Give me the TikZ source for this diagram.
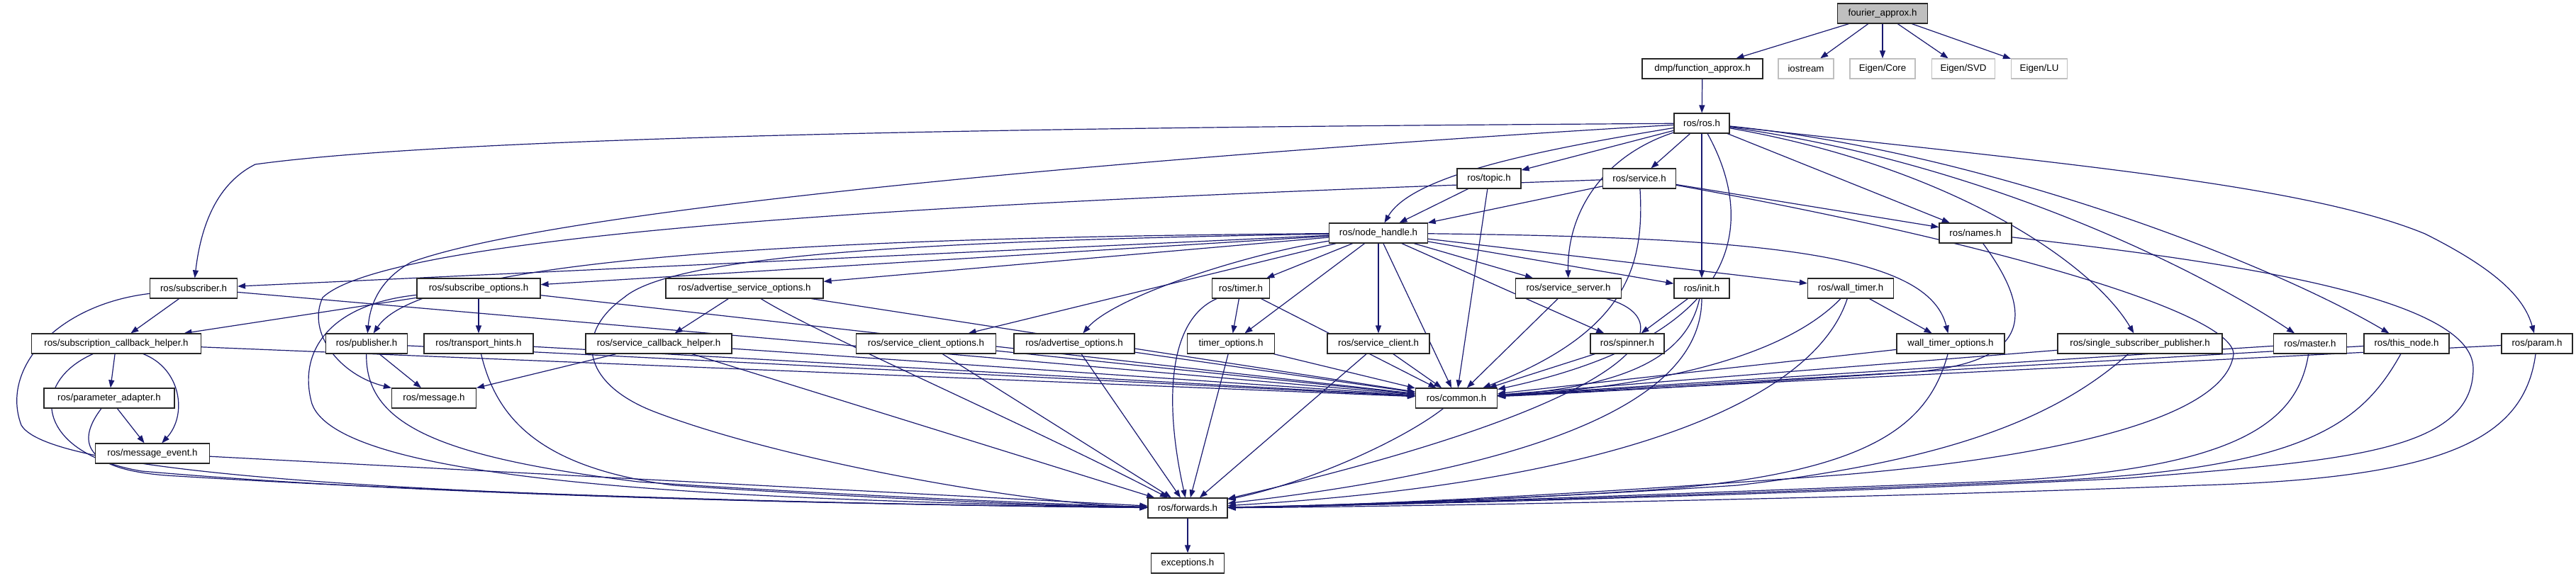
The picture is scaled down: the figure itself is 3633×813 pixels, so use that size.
\documentclass[tikz,border=0pt]{standalone}
\usepackage{fontspec}
\setmainfont{Liberation Sans}
\usetikzlibrary{arrows.meta}
\pgfdeclarelayer{bglayer}
\pgfdeclarelayer{edgelayer}
\pgfsetlayers{bglayer,edgelayer,main}
\definecolor{edgeblue}{HTML}{191970}
\definecolor{extgray}{HTML}{BFBFBF}
\tikzset{
  hdr/.style={draw=black!85, line width=1.15pt, fill=white, rectangle, inner sep=0pt,
    minimum height=28pt, font=\fontsize{13.3}{15}\selectfont},
  exthdr/.style={hdr, draw=extgray},
  rootbox/.style={hdr, fill=extgray},
  e/.style={draw=edgeblue, line width=1.2pt, -{Triangle[length=11pt,width=8pt]}}
}
\begin{document}
\begin{tikzpicture}[x=1pt,y=-1pt]
\begin{pgfonlayer}{bglayer}
\fill[white] (0,0) rectangle (3633,813);
\end{pgfonlayer}
\useasboundingbox (0,0) rectangle (3633,813);
% rank 0
\node[rootbox, minimum width=127pt] (fourier) at (2655,19) {fourier\_approx.h};
% rank 1
\node[hdr, minimum width=170pt] (dmp) at (2401,97) {dmp/function\_approx.h};
\node[exthdr, minimum width=78pt] (iostream) at (2547,97) {iostream};
\node[exthdr, minimum width=92pt] (core) at (2655,97) {Eigen/Core};
\node[exthdr, minimum width=89pt] (svd) at (2769,97) {Eigen/SVD};
\node[exthdr, minimum width=79pt] (lu) at (2876,97) {Eigen/LU};
% rank 2
\node[hdr, minimum width=78pt] (ros) at (2400,174) {ros/ros.h};
% rank 3
\node[hdr, minimum width=90pt] (topic) at (2100,252) {ros/topic.h};
\node[hdr, minimum width=103pt] (service) at (2312,252) {ros/service.h};
% rank 4
\node[hdr, minimum width=139pt] (nh) at (1944,329) {ros/node\_handle.h};
\node[hdr, minimum width=102pt] (names) at (2786,329) {ros/names.h};
% rank 5
\node[hdr, minimum width=123pt] (subscriber) at (273,407) {ros/subscriber.h};
\node[hdr, minimum width=174pt] (subopts) at (675,407) {ros/subscribe\_options.h};
\node[hdr, minimum width=222pt] (advsrvopts) at (1050,407) {ros/advertise\_service\_options.h};
\node[hdr, minimum width=81pt] (timer) at (1750,407) {ros/timer.h};
\node[hdr, minimum width=149pt] (srvserver) at (2212,407) {ros/service\_server.h};
\node[hdr, minimum width=78pt] (init) at (2400,407) {ros/init.h};
\node[hdr, minimum width=121pt] (walltimer) at (2610,407) {ros/wall\_timer.h};
% rank 6
\node[hdr, minimum width=239pt] (subcb) at (164,485) {ros/subscription\_callback\_helper.h};
\node[hdr, minimum width=115pt] (publisher) at (517,485) {ros/publisher.h};
\node[hdr, minimum width=154pt] (transport) at (675,485) {ros/transport\_hints.h};
\node[hdr, minimum width=206pt] (srvcb) at (929,485) {ros/service\_callback\_helper.h};
\node[hdr, minimum width=197pt] (srvclientopts) at (1306,485) {ros/service\_client\_options.h};
\node[hdr, minimum width=170pt] (advopts) at (1515,485) {ros/advertise\_options.h};
\node[hdr, minimum width=123pt] (timeropts) at (1736,485) {timer\_options.h};
\node[hdr, minimum width=144pt] (srvclient) at (1944,485) {ros/service\_client.h};
\node[hdr, minimum width=104pt] (spinner) at (2295,485) {ros/spinner.h};
\node[hdr, minimum width=152pt] (walltimeropts) at (2751,485) {wall\_timer\_options.h};
\node[hdr, minimum width=232pt] (singlesub) at (3018,485) {ros/single\_subscriber\_publisher.h};
\node[hdr, minimum width=103pt] (master) at (3258,485) {ros/master.h};
\node[hdr, minimum width=120pt] (thisnode) at (3394,485) {ros/this\_node.h};
\node[hdr, minimum width=100pt] (param) at (3578,485) {ros/param.h};
% rank 7
\node[hdr, minimum width=184pt] (paramadapter) at (154,562) {ros/parameter\_adapter.h};
\node[hdr, minimum width=119pt] (message) at (612,562) {ros/message.h};
\node[hdr, minimum width=115pt] (common) at (2054,562) {ros/common.h};
% rank 8
\node[hdr, minimum width=161pt] (msgevent) at (215,640) {ros/message\_event.h};
% rank 9, 10
\node[hdr, minimum width=112pt] (forwards) at (1675,717) {ros/forwards.h};
\node[hdr, minimum width=103pt] (exceptions) at (1675,795) {exceptions.h};

\begin{pgfonlayer}{edgelayer}
\draw[e] (fourier) -- (dmp);
\draw[e] (fourier) -- (iostream);
\draw[e] (fourier) -- (core);
\draw[e] (fourier) -- (svd);
\draw[e] (fourier) -- (lu);
\draw[e] (dmp) -- (ros);
% ros.h
\draw[e] (ros) .. controls (1800,178) and (700,185) .. (360,232) .. controls (300,262) and (282,330) .. (subscriber);
\draw[e] (ros) .. controls (1700,215) and (800,290) .. (580,370) .. controls (535,395) and (522,430) .. (publisher);
\draw[e] (ros) -- (topic);
\draw[e] (ros) -- (service);
\draw[e] (ros) .. controls (2150,215) and (1990,250) .. (nh);
\draw[e] (ros) .. controls (2260,220) and (2210,300) .. (srvserver);
\draw[e] (ros) -- (init);
\draw[e] (ros) .. controls (2470,300) and (2480,470) .. (common);
\draw[e] (ros) -- (names);
\draw[e] (ros) .. controls (2750,235) and (2950,370) .. (singlesub);
\draw[e] (ros) .. controls (2800,230) and (3100,380) .. (master);
\draw[e] (ros) .. controls (2800,215) and (3200,370) .. (thisnode);
\draw[e] (ros) .. controls (2900,230) and (3250,260) .. (3420,330) .. controls (3520,380) and (3560,420) .. (param);
% topic, service
\draw[e] (topic) -- (nh);
\draw[e] (topic) -- (common);
\draw[e] (service) -- (nh);
\draw[e] (service) .. controls (2320,380) and (2290,470) .. (common);
\draw[e] (service) -- (names);
\draw[e] (service) .. controls (2800,340) and (3150,440) .. (3150,500) .. controls (3140,580) and (2950,640) .. (2600,670) .. controls (2200,700) and (1900,714) .. (forwards);
\draw[e] (service) .. controls (1500,280) and (560,320) .. (455,420) .. controls (432,470) and (480,530) .. (message);
% node_handle
\draw[e] (nh) -- (subscriber);
\draw[e] (nh) -- (subopts);
\draw[e] (nh) .. controls (1200,335) and (600,360) .. (publisher);
\draw[e] (nh) -- (advsrvopts);
\draw[e] (nh) -- (srvclientopts);
\draw[e] (nh) .. controls (1750,360) and (1570,420) .. (advopts);
\draw[e] (nh) -- (timer);
\draw[e] (nh) -- (timeropts);
\draw[e] (nh) -- (srvclient);
\draw[e] (nh) -- (srvserver);
\draw[e] (nh) -- (init);
\draw[e] (nh) -- (spinner);
\draw[e] (nh) -- (walltimer);
\draw[e] (nh) .. controls (2500,335) and (2720,360) .. (walltimeropts);
\draw[e] (nh) -- (common);
\draw[e] (nh) .. controls (1300,340) and (950,360) .. (880,420) .. controls (810,470) and (820,540) .. (920,580) .. controls (1100,650) and (1450,712) .. (forwards);
% subscriber
\draw[e] (subscriber) -- (subcb);
\draw[e] (subscriber) -- (common);
\draw[e] (subscriber) .. controls (80,430) and (0,520) .. (30,600) .. controls (70,670) and (600,705) .. (forwards);
% subscribe_options
\draw[e] (subopts) -- (subcb);
\draw[e] (subopts) -- (transport);
\draw[e] (subopts) -- (common);
\draw[e] (subopts) .. controls (460,430) and (420,500) .. (440,570) .. controls (480,680) and (1000,705) .. (forwards);
% subscription_callback_helper
\draw[e] (subcb) -- (paramadapter);
\draw[e] (subcb) .. controls (255,520) and (265,585) .. (msgevent);
\draw[e] (subcb) -- (common);
\draw[e] (subcb) .. controls (40,540) and (50,640) .. (200,665) .. controls (600,700) and (1200,712) .. (forwards);
% parameter_adapter, message_event
\draw[e] (paramadapter) -- (msgevent);
\draw[e] (paramadapter) .. controls (110,620) and (110,665) .. (250,672) .. controls (700,700) and (1300,714) .. (forwards);
\draw[e] (msgevent) -- (forwards);
% publisher, transport_hints
\draw[e] (publisher) -- (message);
\draw[e] (publisher) -- (common);
\draw[e] (publisher) .. controls (515,600) and (620,645) .. (900,680) .. controls (1200,700) and (1500,712) .. (forwards);
\draw[e] (transport) -- (common);
\draw[e] (transport) .. controls (700,590) and (760,660) .. (950,685) .. controls (1250,705) and (1500,714) .. (forwards);
% service callback helper, advertise service options
\draw[e] (srvcb) -- (message);
\draw[e] (srvcb) -- (common);
\draw[e] (srvcb) -- (forwards);
\draw[e] (advsrvopts) -- (srvcb);
\draw[e] (advsrvopts) -- (common);
\draw[e] (advsrvopts) .. controls (1150,470) and (1450,600) .. (forwards);
% options
\draw[e] (srvclientopts) -- (common);
\draw[e] (srvclientopts) -- (forwards);
\draw[e] (advopts) -- (common);
\draw[e] (advopts) -- (forwards);
% timer
\draw[e] (timer) -- (timeropts);
\draw[e] (timer) -- (common);
\draw[e] (timer) .. controls (1650,450) and (1640,560) .. (forwards);
\draw[e] (timeropts) -- (common);
\draw[e] (timeropts) -- (forwards);
% service client / server
\draw[e] (srvclient) -- (common);
\draw[e] (srvclient) -- (forwards);
\draw[e] (srvserver) -- (common);
\draw[e] (srvserver) .. controls (2370,450) and (2350,560) .. (forwards);
% init, spinner
\draw[e] (init) -- (spinner);
\draw[e] (init) .. controls (2380,500) and (2300,545) .. (common);
\draw[e] (init) .. controls (2400,540) and (2250,650) .. (forwards);
\draw[e] (spinner) -- (common);
% wall timer
\draw[e] (walltimer) -- (walltimeropts);
\draw[e] (walltimer) .. controls (2520,500) and (2350,545) .. (common);
\draw[e] (walltimer) .. controls (2560,560) and (2300,680) .. (forwards);
\draw[e] (walltimeropts) -- (common);
\draw[e] (walltimeropts) .. controls (2720,600) and (2640,665) .. (2350,690) .. controls (2100,708) and (1850,714) .. (forwards);
% names
\draw[e] (names) .. controls (2860,430) and (2880,510) .. (2700,525) .. controls (2400,545) and (2200,556) .. (common);
\draw[e] (names) .. controls (3150,370) and (3488,420) .. (3488,520) .. controls (3488,640) and (3300,650) .. (3000,675) .. controls (2500,700) and (1900,714) .. (forwards);
% right-hand headers
\draw[e] (singlesub) -- (common);
\draw[e] (singlesub) .. controls (2900,590) and (2750,650) .. (2450,685) .. controls (2150,705) and (1850,714) .. (forwards);
\draw[e] (master) -- (common);
\draw[e] (master) .. controls (3240,600) and (3150,665) .. (2800,680) .. controls (2300,700) and (1900,714) .. (forwards);
\draw[e] (thisnode) -- (common);
\draw[e] (thisnode) .. controls (3330,600) and (3250,660) .. (2900,678) .. controls (2400,700) and (1900,714) .. (forwards);
\draw[e] (param) -- (common);
\draw[e] (param) .. controls (3560,620) and (3450,675) .. (3100,685) .. controls (2600,705) and (1900,716) .. (forwards);
% common, forwards
\draw[e] (common) .. controls (1980,620) and (1850,680) .. (forwards);
\draw[e] (forwards) -- (exceptions);
\end{pgfonlayer}
\end{tikzpicture}
\end{document}
